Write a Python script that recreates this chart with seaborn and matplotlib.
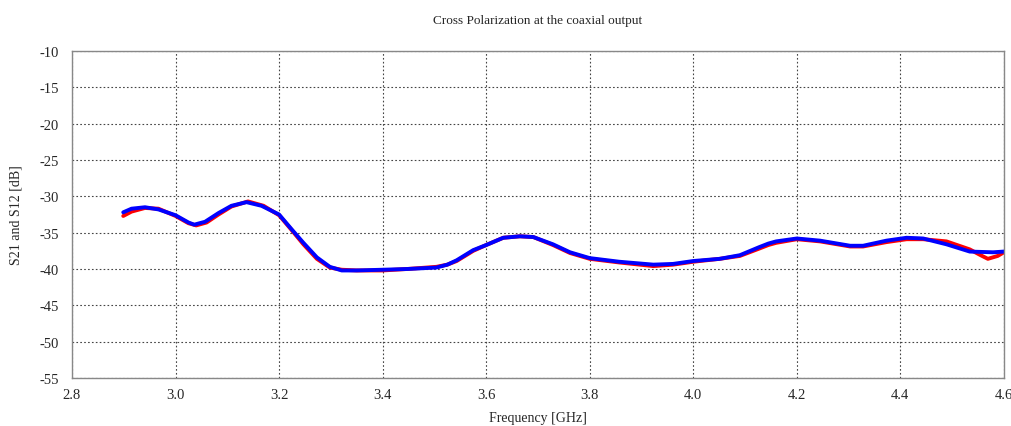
import numpy as np
import pandas as pd
import matplotlib
matplotlib.use("Agg")
import matplotlib.pyplot as plt
import seaborn as sns

# red trace
freq_s21 = [2.899, 2.915, 2.941, 2.967, 3.000, 3.025, 3.040, 3.060, 3.083, 3.108, 3.140, 3.170,
            3.200, 3.225, 3.247, 3.273, 3.298, 3.321, 3.350, 3.400, 3.447, 3.504, 3.525, 3.543,
            3.575, 3.600, 3.633, 3.665, 3.691, 3.729, 3.762, 3.800, 3.857, 3.923, 3.961, 4.000,
            4.051, 4.090, 4.127, 4.145, 4.160, 4.200, 4.245, 4.303, 4.328, 4.373, 4.412, 4.444,
            4.489, 4.534, 4.555, 4.569, 4.588, 4.600]
s21 = [-32.7, -32.1, -31.6, -31.7, -32.7, -33.7, -34.0, -33.6, -32.5, -31.4, -30.7, -31.3,
       -32.6, -34.7, -36.6, -38.6, -39.8, -40.1, -40.2, -40.2, -40.0, -39.7, -39.4, -38.9,
       -37.5, -36.7, -35.7, -35.5, -35.6, -36.7, -37.8, -38.6, -39.1, -39.6, -39.4, -39.0,
       -38.6, -38.2, -37.2, -36.7, -36.4, -35.9, -36.2, -36.9, -36.9, -36.3, -35.9, -35.9,
       -36.2, -37.3, -38.1, -38.6, -38.2, -37.7]

# blue trace
freq_s12 = [2.899, 2.915, 2.941, 2.967, 3.000, 3.025, 3.036, 3.057, 3.083, 3.108, 3.137, 3.166,
            3.200, 3.225, 3.247, 3.273, 3.298, 3.321, 3.350, 3.400, 3.447, 3.504, 3.525, 3.543,
            3.575, 3.600, 3.633, 3.665, 3.691, 3.729, 3.762, 3.800, 3.857, 3.923, 3.961, 4.000,
            4.051, 4.090, 4.127, 4.145, 4.160, 4.200, 4.245, 4.303, 4.328, 4.373, 4.412, 4.444,
            4.489, 4.534, 4.579, 4.600]
s12 = [-32.2, -31.7, -31.5, -31.8, -32.6, -33.6, -33.9, -33.5, -32.3, -31.3, -30.8, -31.3,
       -32.5, -34.6, -36.4, -38.4, -39.7, -40.2, -40.2, -40.1, -40.0, -39.8, -39.4, -38.8,
       -37.4, -36.7, -35.7, -35.5, -35.6, -36.6, -37.7, -38.5, -39.0, -39.4, -39.3, -38.9,
       -38.6, -38.1, -37.0, -36.5, -36.2, -35.8, -36.1, -36.8, -36.8, -36.1, -35.7, -35.8,
       -36.6, -37.6, -37.7, -37.6]

x_ticks = [2.8, 3.0, 3.2, 3.4, 3.6, 3.8, 4.0, 4.2, 4.4, 4.6]
y_ticks = [-55, -50, -45, -40, -35, -30, -25, -20, -15, -10]

df = pd.DataFrame({
    "freq": freq_s21 + freq_s12,
    "val": s21 + s12,
    "param": ["S21"] * len(freq_s21) + ["S12"] * len(freq_s12),
})

sns.set_style("white")
plt.rcParams["font.family"] = ["Liberation Serif", "DejaVu Serif"]

fig = plt.figure(figsize=(10.11, 4.27), dpi=100)
ax = fig.add_axes([0.0712, 0.1124, 0.9218, 0.7658])

sns.lineplot(data=df, x="freq", y="val", hue="param", palette={"S21": "#ff0000", "S12": "#0000ff"},
             linewidth=2.8, legend=False, ax=ax, sort=False)
for ln in ax.lines:
    ln.set_solid_joinstyle("round")
    ln.set_solid_capstyle("round")

ax.set_xlim(2.8, 4.6)
ax.set_ylim(-55, -10)
ax.set_xticks(x_ticks)
ax.set_xticklabels([f"{t:.1f}" for t in x_ticks])
ax.set_yticks(y_ticks)
ax.set_yticklabels([str(t) for t in y_ticks])
ax.grid(True, linestyle=(0, (1.5, 2)), color="#444444", linewidth=0.8)
for s in ax.spines.values():
    s.set_color("#888888")
    s.set_linewidth(1.0)
ax.tick_params(axis="both", labelsize=10.5, length=3.5, color="#888888", direction="out")
ax.tick_params(axis="y", pad=6)
ax.tick_params(axis="x", pad=4)

ax.set_title("Cross Polarization at the coaxial output", fontsize=9.5, pad=20)
ax.set_xlabel("Frequency [GHz]", fontsize=10, labelpad=7)
ax.set_ylabel("S21 and S12 [dB]", fontsize=10, labelpad=12)

fig.savefig("out.png", dpi=100)
